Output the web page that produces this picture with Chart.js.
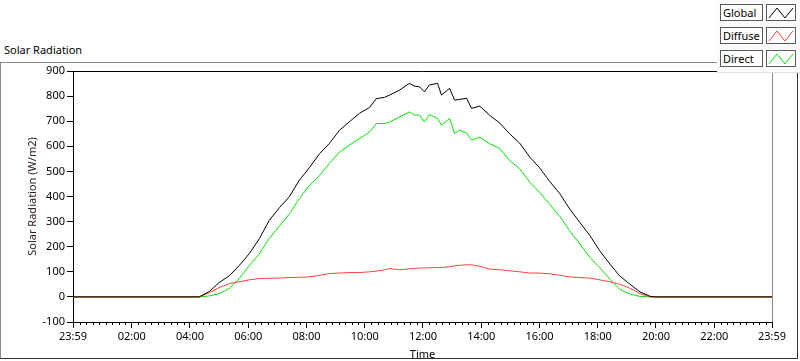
<!DOCTYPE html>
<html lang="en">
<head>
  <meta charset="UTF-8">
  <title>Solar Radiation</title>
  <script src="https://cdn.jsdelivr.net/npm/chart.js"></script>
  <style>
    body {
      margin: 0;
      background: #fff;
      font-family: 'Noto Sans', sans-serif;
      font-size: 11px;
      color: #000;
    }
    #wrap { position: relative; width: 800px; height: 361px; overflow: hidden; }
    #panel {
      position: absolute; left: 0; top: 62px; width: 796px; height: 295px;
      border-top: 1px solid #8a8a8a; border-left: 1px solid #8a8a8a;
      border-right: 1px solid #303030; border-bottom: 1px solid #303030;
    }
    #title { position: absolute; left: 4px; top: 43px; line-height: 14px; }
    canvas { position: absolute; left: 0; top: 0; }
    #legend {
      position: absolute; left: 717px; top: 0; width: 83px; height: 72px;
      background: #fbfbfb; border-bottom: 1px solid #e0e0e0;
    }
    .row { position: absolute; left: 3px; width: 80px; height: 17px; }
    .lbl {
      position: absolute; left: 0; top: 0; width: 39px; height: 15px;
      border: 1px solid #5a5a5a; background: #fff; line-height: 15px; padding-left: 2px;
    }
    .ico {
      position: absolute; left: 46px; top: 0; width: 28px; height: 15px;
      border: 1px solid #5a5a5a; background: #fff;
    }
    .ico svg { display: block; }
  </style>
</head>
<body>
  <div id="wrap">
    <div id="panel"></div>
    <div id="title">Solar Radiation</div>
    <canvas id="solarChart" width="800" height="361"></canvas>
    <div id="legend"></div>
  </div>

  <script>
    // minutes since midnight (-1 = 23:59 of the previous day)
    const minutes = [-1, 259, 280, 300, 321, 341, 362, 383, 403, 424, 445, 465, 486, 507, 527, 548,
      568, 589, 610, 624, 641, 651, 672, 692, 702, 713, 723, 733, 750, 758, 775, 785, 795, 810, 820,
      837, 857, 878, 898, 919, 940, 960, 981, 1002, 1022, 1043, 1064, 1084, 1105, 1125, 1146, 1167,
      1187, 1198, 1439];

    const globalRad = [0, 0, 22, 57, 84, 124, 172, 232, 304, 355, 400, 464, 515, 571, 611, 664,
      697, 731, 755, 790, 795, 804, 824, 851, 840, 837, 817, 844, 851, 804, 831, 784, 787, 791, 751,
      760, 724, 693, 651, 613, 557, 515, 460, 411, 351, 297, 244, 184, 131, 84, 51, 20,
      3, 0, 0];

    const diffuseRad = [0, 0, 17, 37, 53, 60, 68, 73, 74, 75, 77, 78, 80, 86, 93, 95,
      97, 97, 100, 103, 108, 113, 108, 112, 113, 115, 115, 116, 117, 117, 120, 124, 126, 128, 128,
      122, 111, 108, 104, 100, 95, 95, 92, 86, 80, 77, 75, 68, 60, 51, 35, 13,
      0, 0, 0];

    const directRad = [0, 0, 4, 13, 34, 72, 124, 172, 232, 282, 331, 391, 444, 484, 531, 577,
      604, 631, 657, 691, 690, 697, 717, 737, 725, 724, 697, 727, 711, 684, 711, 651, 664, 653, 624,
      637, 611, 591, 544, 511, 457, 417, 369, 320, 264, 211, 157, 117, 71, 31, 11, 2,
      0, 0, 0];

    const timeTicks = [-1, 120, 240, 360, 480, 600, 720, 840, 960, 1080, 1200, 1320, 1439];
    const timeLabels = ['23:59', '02:00', '04:00', '06:00', '08:00', '10:00', '12:00',
      '14:00', '16:00', '18:00', '20:00', '22:00', '23:59'];

    const seriesNames = ['Global', 'Diffuse', 'Direct'];
    const seriesColors = ['#000000', '#ff4040', '#00e600'];
    const seriesValues = [globalRad, diffuseRad, directRad];

    // legend boxes, LabVIEW style
    const legend = document.getElementById('legend');
    seriesNames.forEach((name, i) => {
      const row = document.createElement('div');
      row.className = 'row';
      row.style.top = (4 + i * 23) + 'px';
      row.innerHTML = `<div class="lbl">${name}</div>` +
        `<div class="ico"><svg width="28" height="15"><polyline points="2,13 10,3 18,13 26,3" ` +
        `fill="none" stroke="${seriesColors[i]}" stroke-width="1"/></svg></div>`;
      legend.appendChild(row);
    });

    const framePlugin = {
      id: 'frame',
      afterDraw(chart) {
        const { ctx, chartArea: a } = chart;
        const xs = chart.scales.x;
        ctx.save();
        ctx.lineWidth = 1;
        ctx.strokeStyle = '#000';
        ctx.beginPath();
        ctx.moveTo(a.left, a.top + 0.5);
        ctx.lineTo(a.right, a.top + 0.5);
        ctx.stroke();
        ctx.strokeStyle = '#8a8a8a';
        ctx.beginPath();
        ctx.moveTo(a.right + 0.5, a.top);
        ctx.lineTo(a.right + 0.5, a.bottom);
        ctx.stroke();
        // minor ticks, 9 steps between labelled ticks
        ctx.strokeStyle = '#000';
        ctx.beginPath();
        for (let i = 0; i < timeTicks.length - 1; i++) {
          for (let k = 1; k < 9; k++) {
            const v = timeTicks[i] + (timeTicks[i + 1] - timeTicks[i]) * k / 9;
            const px = Math.round(xs.getPixelForValue(v)) + 0.5;
            ctx.moveTo(px, a.bottom);
            ctx.lineTo(px, a.bottom + 3);
          }
        }
        ctx.stroke();
        ctx.restore();
      }
    };

    const font = { family: "'Noto Sans', sans-serif", size: 11 };

    new Chart(document.getElementById('solarChart'), {
      type: 'line',
      data: {
        datasets: seriesNames.map((name, i) => ({
          label: name,
          data: minutes.map((m, j) => ({ x: m, y: seriesValues[i][j] })),
          borderColor: seriesColors[i],
          borderWidth: 1,
          pointRadius: 0,
          tension: 0,
          fill: false
        }))
      },
      options: {
        responsive: false,
        animation: false,
        layout: { padding: { left: 0, top: 71, right: 28, bottom: 0 } },
        plugins: {
          legend: { display: false },
          title: { display: false },
          tooltip: { enabled: false }
        },
        scales: {
          x: {
            type: 'linear',
            min: -1,
            max: 1439,
            afterFit(s) { s.height = 39; },
            afterBuildTicks(s) { s.ticks = timeTicks.map(v => ({ value: v })); },
            grid: { drawOnChartArea: false, tickLength: 6, color: '#000' },
            border: { color: '#000' },
            ticks: {
              autoSkip: false,
              maxRotation: 0,
              padding: 2,
              color: '#000',
              font: font,
              callback: (v, i) => timeLabels[i]
            },
            title: { display: true, text: 'Time', color: '#000', font: font, padding: { top: 0, bottom: 0 } }
          },
          y: {
            min: -100,
            max: 900,
            afterFit(s) { s.width = 73; },
            grid: { drawOnChartArea: false, tickLength: 6, color: '#000' },
            border: { color: '#000' },
            ticks: { stepSize: 100, padding: 2, color: '#000', font: font },
            title: {
              display: true, text: 'Solar Radiation (W/m2)', color: '#2a1a1a', font: font,
              padding: { top: 26, bottom: 0 }
            }
          }
        }
      },
      plugins: [framePlugin]
    });
  </script>
</body>
</html>
